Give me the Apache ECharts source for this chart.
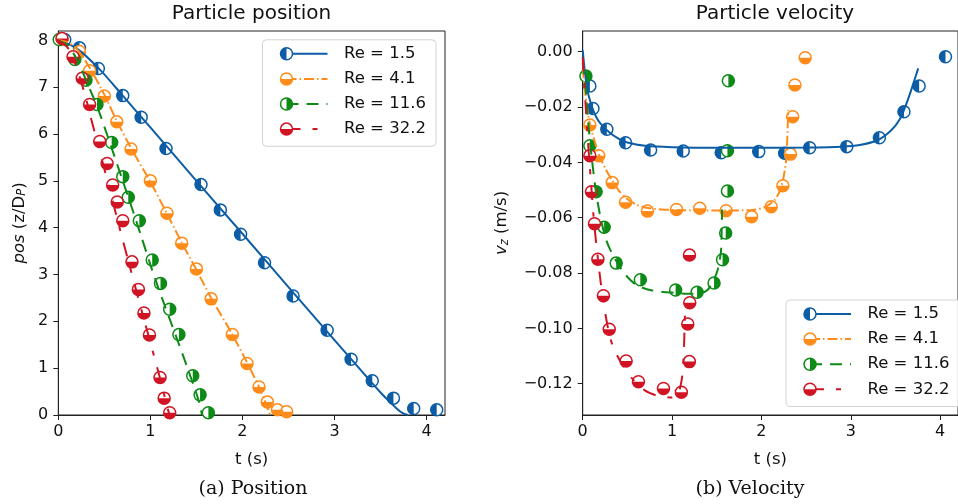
<!DOCTYPE html>
<html>
<head>
<meta charset="utf-8">
<script src="https://cdn.jsdelivr.net/npm/echarts@6/dist/echarts.min.js"></script>
<style>
  html, body { margin: 0; padding: 0; background: #fff; }
  #chart { width: 958px; height: 504px; }
</style>
</head>
<body>
<div id="chart"></div>
<script>
// series labels / colours
const reLabels = ['Re = 1.5', 'Re = 4.1', 'Re = 11.6', 'Re = 32.2']
const colors = ['#0C5DA5', '#FF8C1A', '#0E8A16', '#D01424']

// tick values
const tTicks = [0, 1, 2, 3, 4]
const posTicks = [0, 1, 2, 3, 4, 5, 6, 7, 8]
const velTicks = [-0.12, -0.1, -0.08, -0.06, -0.04, -0.02, 0]

// position: simulation curves [t, z/Dp]
const posLine15 = [[0, 8.0], [0.2, 7.83], [0.45, 7.38], [0.7, 6.82], [1.0, 6.14], [1.5, 5.0], [2.0, 3.87], [2.5, 2.73], [3.0, 1.6], [3.2, 1.15], [3.4, 0.7], [3.5, 0.48], [3.6, 0.28], [3.68, 0.13], [3.74, 0.04], [3.8, 0]]
const posLine41 = [[0, 8.0], [0.1, 7.96], [0.2, 7.82], [0.34, 7.42], [0.5, 6.84], [0.635, 6.28], [0.79, 5.7], [1.0, 4.98], [1.18, 4.3], [1.34, 3.68], [1.5, 3.1], [1.66, 2.5], [1.89, 1.72], [2.05, 1.12], [2.18, 0.6], [2.24, 0.32], [2.28, 0.1], [2.3, 0]]
const posLine116 = [[0, 8.0], [0.1, 7.9], [0.2, 7.6], [0.3, 7.16], [0.36, 6.88], [0.42, 6.6], [0.51, 6.1], [0.58, 5.7], [0.7, 5.0], [0.8, 4.42], [0.9, 3.82], [1.015, 3.12], [1.1, 2.64], [1.2, 2.1], [1.32, 1.46], [1.4, 1.02], [1.5, 0.46], [1.54, 0.2], [1.56, 0]]
const posLine322 = [[0, 8.0], [0.1, 7.85], [0.2, 7.42], [0.3, 6.76], [0.36, 6.3], [0.45, 5.63], [0.55, 4.88], [0.67, 3.96], [0.8, 3.0], [0.92, 2.12], [1.0, 1.55], [1.1, 0.82], [1.15, 0.43], [1.19, 0.12], [1.21, 0]]

// position: measured points
const posMark15 = [[0.07, 8.02], [0.23, 7.84], [0.435, 7.4], [0.7, 6.82], [0.9, 6.36], [1.17, 5.69], [1.55, 4.92], [1.76, 4.38], [1.98, 3.86], [2.24, 3.25], [2.55, 2.54], [2.92, 1.81], [3.18, 1.19], [3.41, 0.73], [3.64, 0.36], [3.86, 0.14], [4.11, 0.11]]
const posMark41 = [[0.04, 8.02], [0.23, 7.76], [0.34, 7.35], [0.5, 6.81], [0.635, 6.26], [0.79, 5.68], [1.0, 5.0], [1.18, 4.31], [1.34, 3.67], [1.5, 3.12], [1.66, 2.48], [1.89, 1.72], [2.05, 1.1], [2.18, 0.6], [2.27, 0.28], [2.38, 0.11], [2.48, 0.07]]
const posMark116 = [[0.01, 8.02], [0.18, 7.59], [0.3, 7.15], [0.42, 6.63], [0.58, 5.82], [0.7, 5.09], [0.76, 4.65], [0.88, 4.15], [1.02, 3.31], [1.11, 2.81], [1.21, 2.26], [1.31, 1.72], [1.46, 0.84], [1.54, 0.43], [1.63, 0.05]]
const posMark322 = [[0.04, 8.04], [0.16, 7.65], [0.26, 7.19], [0.34, 6.63], [0.45, 5.84], [0.53, 5.37], [0.59, 4.91], [0.64, 4.55], [0.7, 4.15], [0.8, 3.27], [0.87, 2.68], [0.93, 2.18], [0.99, 1.71], [1.105, 0.8], [1.15, 0.36], [1.21, 0.05]]

// velocity: simulation curves [t, vz]
const velLine15 = [[0, 0.0005], [0.02, -0.006], [0.05, -0.0135], [0.1, -0.0195], [0.15, -0.0235], [0.2, -0.026], [0.3, -0.0292], [0.4, -0.0314], [0.5, -0.0328], [0.7, -0.034], [1.0, -0.0345], [1.5, -0.0347], [2.0, -0.0347], [2.5, -0.0346], [2.9, -0.0343], [3.1, -0.0337], [3.3, -0.032], [3.45, -0.0285], [3.55, -0.0243], [3.62, -0.019], [3.68, -0.0135], [3.73, -0.0085], [3.755, -0.006]]
const velLine41 = [[0, -0.006], [0.04, -0.018], [0.08, -0.026], [0.13, -0.032], [0.18, -0.037], [0.25, -0.042], [0.33, -0.0465], [0.4, -0.05], [0.48, -0.0528], [0.6, -0.0553], [0.73, -0.0565], [1.0, -0.0572], [1.5, -0.0574], [1.9, -0.0572], [2.05, -0.056], [2.15, -0.0535], [2.21, -0.05], [2.25, -0.045], [2.28, -0.038], [2.3, -0.021]]
const velLine116 = [[0, -0.004], [0.03, -0.012], [0.06, -0.025], [0.1, -0.038], [0.15, -0.051], [0.2, -0.06], [0.257, -0.0675], [0.31, -0.0717], [0.4, -0.077], [0.475, -0.0805], [0.6, -0.0843], [0.766, -0.0862], [1.04, -0.0872], [1.18, -0.0875], [1.33, -0.0871], [1.4, -0.086], [1.46, -0.083], [1.51, -0.0789], [1.547, -0.0723], [1.555, -0.065], [1.56, -0.057]]
const velLine322 = [[0, -0.002], [0.03, -0.018], [0.06, -0.033], [0.09, -0.046], [0.12, -0.059], [0.15, -0.069], [0.2, -0.083], [0.25, -0.094], [0.3, -0.1025], [0.35, -0.1075], [0.45, -0.1135], [0.55, -0.118], [0.7, -0.1225], [0.85, -0.1245], [1.0, -0.125], [1.06, -0.1243], [1.09, -0.1215], [1.115, -0.117], [1.13, -0.11], [1.14, -0.1], [1.145, -0.095]]

// velocity: measured points
const velMark15 = [[0.08, -0.0124], [0.115, -0.0205], [0.27, -0.028], [0.48, -0.0329], [0.76, -0.0355], [1.125, -0.0359], [1.55, -0.0365], [1.97, -0.0361], [2.26, -0.0367], [2.54, -0.0347], [2.955, -0.0343], [3.32, -0.0311], [3.595, -0.0217], [3.765, -0.0124], [4.06, -0.0018]]
const velMark41 = [[0.08, -0.0265], [0.18, -0.0376], [0.33, -0.0473], [0.48, -0.0544], [0.725, -0.0576], [1.05, -0.057], [1.31, -0.0566], [1.605, -0.0575], [1.89, -0.0596], [2.11, -0.056], [2.24, -0.0484], [2.325, -0.037], [2.35, -0.0235], [2.375, -0.012], [2.49, -0.0022]]
const velMark116 = [[0.036, -0.0088], [0.08, -0.034], [0.15, -0.0506], [0.24, -0.0634], [0.375, -0.0764], [0.645, -0.0824], [1.04, -0.0861], [1.28, -0.0869], [1.47, -0.0836], [1.565, -0.0752], [1.6, -0.0655], [1.62, -0.0503], [1.62, -0.0358], [1.63, -0.0105]]
const velMark322 = [[0.08, -0.0376], [0.098, -0.0506], [0.132, -0.0622], [0.17, -0.075], [0.232, -0.0882], [0.297, -0.1003], [0.486, -0.1118], [0.624, -0.1193], [0.904, -0.1217], [1.104, -0.1231], [1.194, -0.112], [1.176, -0.0984], [1.198, -0.0907], [1.195, -0.0735]]

const posLines = [posLine15, posLine41, posLine116, posLine322]
const posMarks = [posMark15, posMark41, posMark116, posMark322]
const velLines = [velLine15, velLine41, velLine116, velLine322]
const velMarks = [velMark15, velMark41, velMark116, velMark322]

const FONT = 'DejaVu Sans'
const dashes = ['solid', [10, 3, 1.5, 3], [12, 8], [14, 12, 5, 12]]
// which half of the marker is filled
const halves = ['left', 'bottom', 'right', 'bottom']
const R = 6

const halfPath = {
  left: 'path://M10,0 A10,10 0 0 0 10,20 Z',
  right: 'path://M0,0 A10,10 0 0 1 0,20 Z',
  bottom: 'path://M0,0 A10,10 0 0 0 20,0 Z',
}
const halfSize = { left: [R, 2 * R], right: [R, 2 * R], bottom: [2 * R, R] }
const halfOffset = { left: [-R / 2, 0], right: [R / 2, 0], bottom: [0, R / 2] }
const halfAngles = { left: [Math.PI / 2, Math.PI * 1.5], right: [-Math.PI / 2, Math.PI / 2], bottom: [0, Math.PI] }

const minus = (v) => (v < 0 ? '\u2212' : '')

const chart = echarts.init(document.getElementById('chart'), null, { renderer: 'canvas' })

const axisCommon = {
  axisLine: { show: true, onZero: false, lineStyle: { color: '#222', width: 1 } },
  axisTick: { show: true, inside: false, length: 5, lineStyle: { color: '#222', width: 1 } },
  splitLine: { show: false },
  nameMoveOverlap: false,
}

const xAxisFor = (gridIndex) => ({
  ...axisCommon,
  type: 'value',
  gridIndex,
  min: 0,
  max: 4.2,
  name: 't (s)',
  nameLocation: 'middle',
  nameGap: 36,
  nameTextStyle: { fontFamily: FONT, fontSize: 16.5, color: '#111' },
  axisTick: { ...axisCommon.axisTick, customValues: tTicks },
  axisLabel: { customValues: tTicks, margin: 9, fontFamily: FONT, fontSize: 16, color: '#111' },
})

const series = []
for (let i = 0; i < 4; i++) {
  const c = colors[i]
  const h = halves[i]
  ;[[0, posMarks[i], posLines[i]], [1, velMarks[i], velLines[i]]].forEach(([g, marks, line]) => {
    series.push({
      type: 'scatter', xAxisIndex: g, yAxisIndex: g, data: marks, silent: true, clip: true,
      symbol: 'circle', symbolSize: 2 * R,
      itemStyle: { color: '#fff', borderColor: c, borderWidth: 1.5, opacity: 1 },
    })
    series.push({
      type: 'scatter', xAxisIndex: g, yAxisIndex: g, data: marks, silent: true, clip: true,
      symbol: halfPath[h], symbolSize: halfSize[h], symbolOffset: halfOffset[h], symbolKeepAspect: false,
      itemStyle: { color: c, borderWidth: 0, opacity: 1 },
    })
    series.push({
      type: 'line', xAxisIndex: g, yAxisIndex: g, data: line, silent: true,
      showSymbol: false, symbol: 'none', smooth: 0.25,
      lineStyle: { color: c, width: 2, type: dashes[i], cap: 'butt' },
    })
  })
}

// legend drawn with graphic elements (marker + line handle like the original)
const legendItems = (bx, by, w) => {
  const els = [{
    type: 'rect', z: 100,
    shape: { x: bx, y: by, width: w, height: 106.5, r: 4 },
    style: { fill: 'rgba(255,255,255,0.85)', stroke: '#d3d3d3', lineWidth: 1 },
  }]
  reLabels.forEach((label, i) => {
    const y = by + 14 + i * 25.1
    const c = colors[i]
    const a = halfAngles[halves[i]]
    els.push({
      type: 'line', z: 101,
      shape: { x1: bx + 24, y1: y, x2: bx + 65, y2: y },
      style: { stroke: c, lineWidth: 2, lineDash: dashes[i] === 'solid' ? null : dashes[i] },
    })
    els.push({
      type: 'circle', z: 102,
      shape: { cx: bx + 24, cy: y, r: R },
      style: { fill: '#fff', stroke: c, lineWidth: 1.5 },
    })
    els.push({
      type: 'sector', z: 103,
      shape: { cx: bx + 24, cy: y, r0: 0, r: R, startAngle: a[0], endAngle: a[1], clockwise: true },
      style: { fill: c },
    })
    els.push({
      type: 'text', z: 103, x: bx + 81.5, y: y,
      style: { text: label, fill: '#111', fontFamily: FONT, fontSize: 16.5, align: 'left', verticalAlign: 'middle' },
    })
  })
  return els
}

const textEl = (text, x, y, size, family) => ({
  type: 'text', x, y, z: 100,
  style: { text, fill: '#111', fontFamily: family, fontSize: size, align: 'center', verticalAlign: 'middle' },
})

const option = {
  animation: false,
  backgroundColor: '#fff',
  grid: [
    { left: 58.3, top: 31, width: 386.7, height: 384, show: true, borderColor: '#222', borderWidth: 1, backgroundColor: 'transparent' },
    { left: 582.7, top: 31, width: 385.6, height: 384, show: true, borderColor: '#222', borderWidth: 1, backgroundColor: 'transparent' },
  ],
  xAxis: [xAxisFor(0), xAxisFor(1)],
  yAxis: [
    {
      ...axisCommon,
      type: 'value', gridIndex: 0, min: 0, max: 8.2,
      axisTick: { ...axisCommon.axisTick, customValues: posTicks },
      axisLabel: { customValues: posTicks, margin: 10, fontFamily: FONT, fontSize: 16, color: '#111', formatter: (v) => String(Math.round(v)) },
      name: '{i|pos} (z/D{s|P})',
      nameLocation: 'middle', nameRotate: 90, nameGap: 30,
      nameTextStyle: {
        fontFamily: FONT, fontSize: 16.5, color: '#111',
        rich: {
          i: { fontFamily: FONT, fontSize: 16.5, fontStyle: 'italic', color: '#111' },
          s: { fontFamily: FONT, fontSize: 11.5, fontStyle: 'italic', color: '#111', verticalAlign: 'bottom', lineHeight: 12 },
        },
      },
    },
    {
      ...axisCommon,
      type: 'value', gridIndex: 1, min: -0.1313, max: 0.0075,
      axisTick: { ...axisCommon.axisTick, customValues: velTicks },
      axisLabel: {
        customValues: velTicks, margin: 10, fontFamily: FONT, fontSize: 16, color: '#111',
        formatter: (v) => (Math.abs(v) < 1e-9 ? '0.00' : minus(v) + Math.abs(v).toFixed(2)),
      },
      name: '{i|v}{s|z} (m/s)',
      nameLocation: 'middle', nameRotate: 90, nameGap: 72,
      nameTextStyle: {
        fontFamily: FONT, fontSize: 16.5, color: '#111',
        rich: {
          i: { fontFamily: FONT, fontSize: 16.5, fontStyle: 'italic', color: '#111' },
          s: { fontFamily: FONT, fontSize: 11.5, fontStyle: 'italic', color: '#111', verticalAlign: 'bottom', lineHeight: 12 },
        },
      },
    },
  ],
  graphic: [
    textEl('Particle position', 251.5, 14, 20, FONT),
    textEl('Particle velocity', 775, 14, 20, FONT),
    textEl('(a) Position', 253, 489, 19, 'DejaVu Serif'),
    textEl('(b) Velocity', 750, 489, 19, 'DejaVu Serif'),
    ...legendItems(262.5, 39.8, 173.5),
    ...legendItems(786, 300, 190),
  ],
  series,
}

chart.setOption(option)
</script>
</body>
</html>
